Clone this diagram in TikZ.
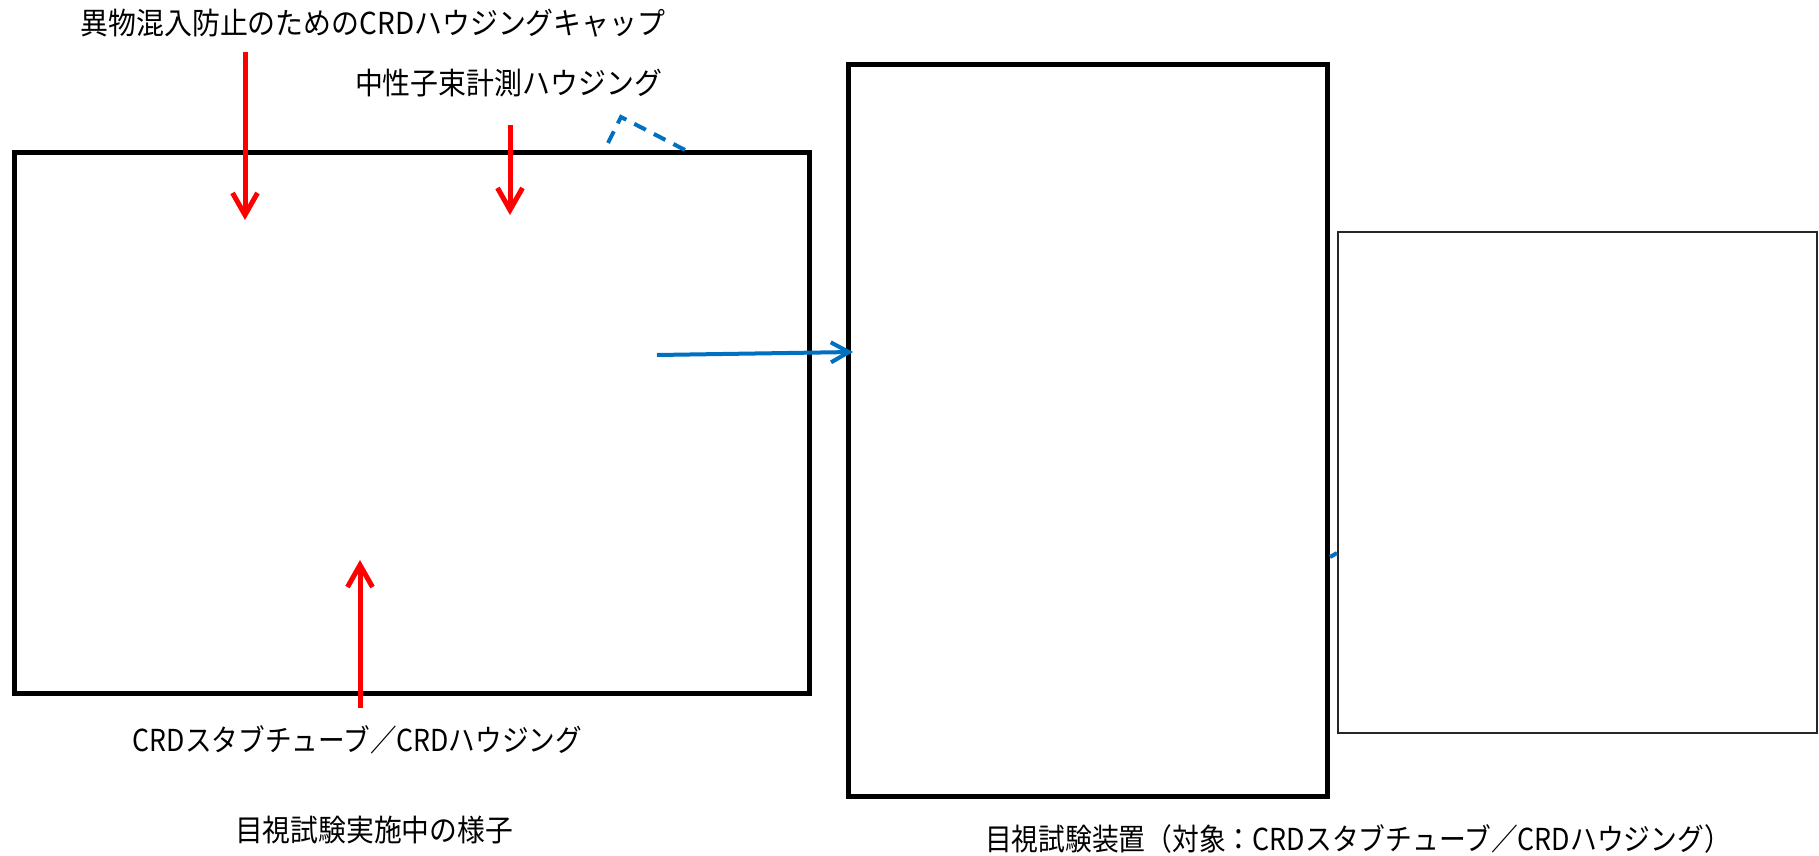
\documentclass[tikz,border=0pt]{standalone}
\usepackage{fontspec}
\setmainfont{Noto Sans CJK JP}
\usetikzlibrary{arrows.meta,fit}
\newcommand{\fitw}[2]{\resizebox{#1}{1.08\height}{#2}}
\definecolor{ablue}{RGB}{0,112,192}
\definecolor{ared}{RGB}{255,0,0}
\begin{document}
\begin{tikzpicture}[x=0.5pt,y=-0.5pt,
  photo/.style={draw=black, line width=2.5pt, inner sep=0pt, outer sep=0pt, line join=miter},
  thinphoto/.style={draw=black!85, line width=1.3pt, inner sep=0pt, outer sep=0pt},
  lbl/.style={inner sep=0pt, outer sep=0pt, font=\fontsize{14pt}{16pt}\selectfont},
  redarrow/.style={draw=ared, line width=2.5pt, -{Straight Barb[length=11pt,width=12.5pt,line width=2.5pt]}},
  bluearrow/.style={draw=ablue, line width=2pt, -{Straight Barb[length=9pt,width=10pt,line width=2pt]}},
  blueline/.style={draw=ablue, line width=2pt},
  bluedash/.style={draw=ablue, line width=2pt, dash pattern=on 6.5pt off 4.5pt}
]
\useasboundingbox (0,0) rectangle (1819,856);
\fill[white] (0,0) rectangle (1819,856);

% boxes
\node[photo, fit={(14,152) (809,693)}] (photoA) {};
\node[photo, fit={(848,65) (1327,796)}] (photoB) {};
\node[thinphoto, fit={(1338,232) (1817,733)}] (photoC) {};

% labels
\node[lbl] (capL) at (373,23) {\fitw{292.5pt}{異物混入防止のためのCRDハウジングキャップ}};
\node[lbl] (nfL) at (508.5,83) {\fitw{153.5pt}{中性子束計測ハウジング}};
\node[lbl] (stubL) at (357.5,740) {\fitw{224.5pt}{CRDスタブチューブ／CRDハウジング}};
\node[lbl] (capA) at (374,830) {\fitw{139pt}{目視試験実施中の様子}};
\node[lbl] (capB) at (1358,839) {\fitw{373pt}{目視試験装置（対象：CRDスタブチューブ／CRDハウジング）}};

% red arrows
\coordinate (r1s) at (245,52);  \coordinate (r1e) at (245,220);
\coordinate (r2s) at (510,125); \coordinate (r2e) at (510,215);
\coordinate (r3s) at (360,708); \coordinate (r3e) at (360,560);
\draw[redarrow] (r1s) -- (r1e);
\draw[redarrow] (r2s) -- (r2e);
\draw[redarrow] (r3s) -- (r3e);

% blue connectors
\coordinate (bd1) at (608,143);
\coordinate (bd2) at (621,117);
\coordinate (bd3) at (685,150);
\draw[bluedash] (bd1) -- (bd2) -- (bd3);
\coordinate (ba1) at (657,355);
\draw[bluearrow] (ba1) -- (853,352) coordinate (ba2);
\coordinate (bl1) at (1330,557);
\coordinate (bl2) at (1337,553);
\draw[blueline] (bl1) -- (bl2);
\end{tikzpicture}
\end{document}
